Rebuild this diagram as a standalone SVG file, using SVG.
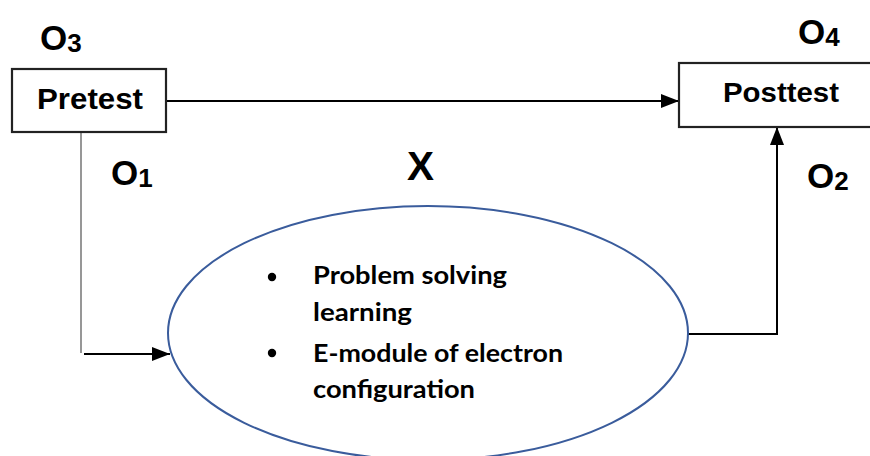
<svg xmlns="http://www.w3.org/2000/svg" width="870" height="456" viewBox="0 0 870 456">
  <style>
    .box { fill: #ffffff; stroke: #222222; stroke-width: 2.2; }
    .boxlabel { font-family: "Liberation Sans", Arial, sans-serif; font-weight: bold; fill: #000000; text-anchor: middle; }
    .olabel { font-family: "Liberation Sans", Arial, sans-serif; font-weight: bold; font-size: 35px; fill: #000000; }
    .sub { font-size: 26px; }
    .conn { fill: none; stroke: #000000; stroke-width: 2; }
    .item { font-family: "Lato", "Open Sans", sans-serif; font-weight: bold; font-size: 24px; fill: #000000; }
  </style>
  <defs>
    <marker id="arrow" markerUnits="userSpaceOnUse" markerWidth="18" markerHeight="14" refX="18" refY="7" orient="auto">
      <path d="M0,0 L18,7 L0,14 Z" fill="#000000"/>
    </marker>
  </defs>
  <rect width="870" height="456" fill="#ffffff"/>

  <g id="connectors">
    <path class="conn" d="M166,101 L679,101" marker-end="url(#arrow)"/>
    <path d="M81,133 L81,353" fill="none" stroke="#8c8c8c" stroke-width="1.8"/>
    <path class="conn" d="M84,354 L170,354" marker-end="url(#arrow)"/>
    <path class="conn" d="M688,334 L777,334 L777,127" marker-end="url(#arrow)"/>
  </g>

  <g id="pretest">
    <rect class="box" x="12" y="69" width="154" height="63"/>
    <text class="boxlabel" x="90" y="109" font-size="30" textLength="106" lengthAdjust="spacingAndGlyphs">Pretest</text>
  </g>

  <g id="posttest">
    <rect class="box" x="679" y="63" width="200" height="64"/>
    <text class="boxlabel" x="781" y="102" font-size="28" textLength="116" lengthAdjust="spacingAndGlyphs">Posttest</text>
  </g>

  <g id="treatment">
    <ellipse cx="428" cy="333" rx="260" ry="127" fill="#ffffff" stroke="#3a5c9c" stroke-width="2"/>
    <circle cx="272" cy="277" r="4.2" fill="#000000"/>
    <circle cx="272" cy="353" r="4.2" fill="#000000"/>
    <text class="item" x="313" y="284" textLength="194" lengthAdjust="spacingAndGlyphs">Problem solving</text>
    <text class="item" x="313" y="321" textLength="99" lengthAdjust="spacingAndGlyphs">learning</text>
    <text class="item" x="313" y="362" textLength="250" lengthAdjust="spacingAndGlyphs">E-module of electron</text>
    <text class="item" x="313" y="398" textLength="162" lengthAdjust="spacingAndGlyphs">configuration</text>
  </g>

  <g id="labels">
    <text class="olabel" x="40" y="50">O<tspan class="sub" dy="2">3</tspan></text>
    <text class="olabel" x="111" y="185">O<tspan class="sub" dy="2">1</tspan></text>
    <text class="olabel" x="798" y="44">O<tspan class="sub" dy="2">4</tspan></text>
    <text class="olabel" x="807" y="188">O<tspan class="sub" dy="2">2</tspan></text>
    <text x="407" y="180" font-family="Liberation Sans, Arial, sans-serif" font-weight="bold" font-size="41" fill="#000000" textLength="27" lengthAdjust="spacingAndGlyphs">X</text>
  </g>
</svg>
